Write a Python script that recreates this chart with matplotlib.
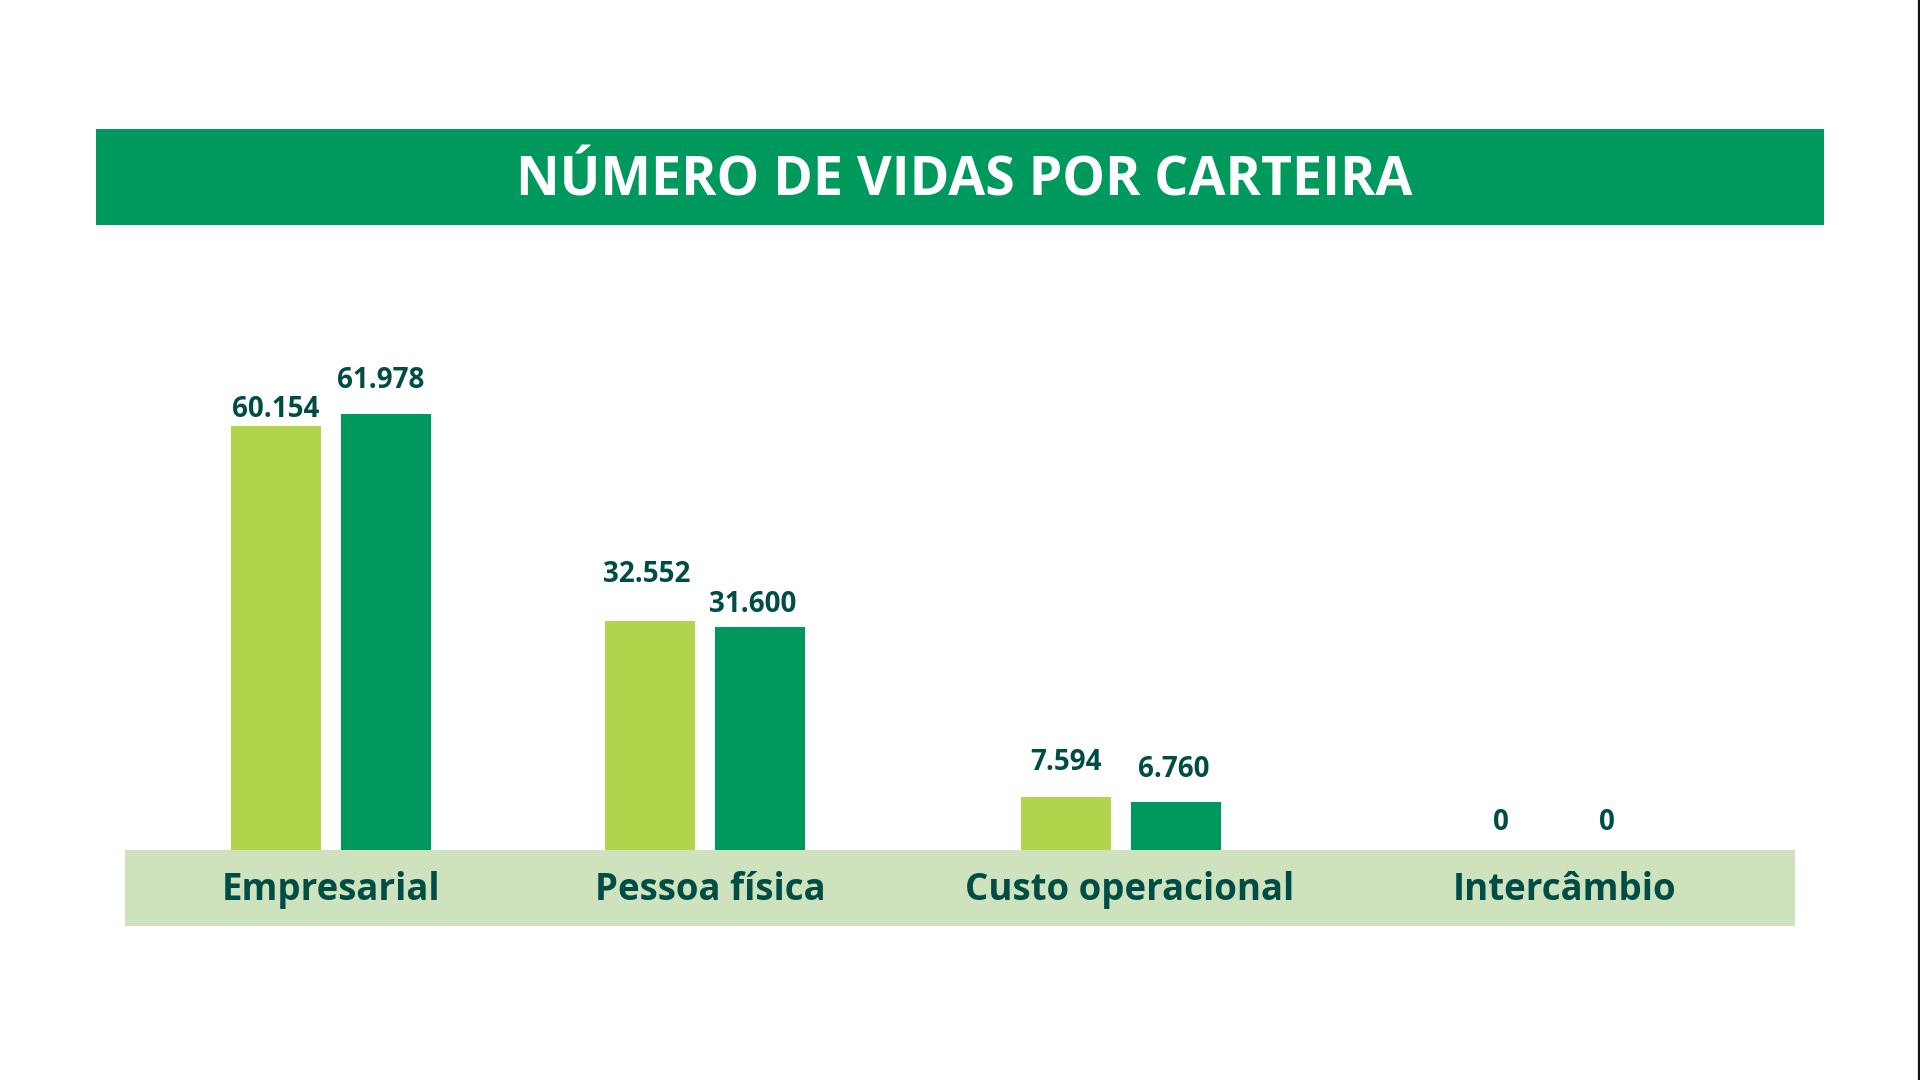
import matplotlib
matplotlib.use("Agg")
import matplotlib.pyplot as plt
from matplotlib.patches import Rectangle

# ---- data ----
title = "NÚMERO DE VIDAS POR CARTEIRA"
categories = ["Empresarial", "Pessoa física", "Custo operacional", "Intercâmbio"]
series_a = [60154, 32552, 7594, 0]   # light green
series_b = [61978, 31600, 6760, 0]   # dark green
labels_a = ["60.154", "32.552", "7.594", "0"]
labels_b = ["61.978", "31.600", "6.760", "0"]

# ---- layout (pixels, 1920x1080 canvas) ----
W, H = 1920, 1080
group_x = [331, 705, 1121, 1554]
cat_label_x = [331, 710, 1130, 1565]
bar_w = 90
bar_off = 55
baseline_px = 850
units_per_px = 142.0
gap_a = [9, 39, 27, 20]
gap_b = [26, 15, 25, 20]
dx_a = [0, -3, 0, 2]
dx_b = [-5, -7, -2, -2]

C_BANNER = "#00995D"
C_LIGHT = "#B2D44D"
C_DARK = "#00995D"
C_BAND = "#CEE3BD"
C_TEXT = "#004D46"
FONT = "Open Sans"

fig = plt.figure(figsize=(W / 100, H / 100), dpi=100)
fig.patch.set_facecolor("white")

def fx(px):
    return px / W

def fy(py):
    return 1 - py / H

# title banner
fig.patches.append(Rectangle((fx(96), fy(225)), fx(1824) - fx(96), fy(129) - fy(225),
                             transform=fig.transFigure, facecolor=C_BANNER, edgecolor="none", zorder=0))
fig.text(fx(964), fy(195), title, ha="center", va="baseline", color="white",
         fontsize=38.6, fontweight="bold", family=FONT)

# category band
fig.patches.append(Rectangle((fx(125), fy(926)), fx(1795) - fx(125), fy(850) - fy(926),
                             transform=fig.transFigure, facecolor=C_BAND, edgecolor="none", zorder=0))
for x, c in zip(cat_label_x, categories):
    fig.text(fx(x), fy(900), c, ha="center", va="baseline", color=C_TEXT,
             fontsize=26.4, fontweight="bold", family=FONT)

# right edge line
fig.add_artist(plt.Line2D([fx(1918.5), fx(1918.5)], [0, 1], transform=fig.transFigure,
                          color="#111111", linewidth=1.6))

# bars axes
ax_h = 620
ax = fig.add_axes([0, fy(baseline_px), 1, ax_h / H])
ax.set_xlim(0, W)
ax.set_ylim(0, ax_h * units_per_px)
ax.axis("off")

xa = [g - bar_off for g in group_x]
xb = [g + bar_off for g in group_x]
ax.bar(xa, series_a, width=bar_w, color=C_LIGHT, zorder=2)
ax.bar(xb, series_b, width=bar_w, color=C_DARK, zorder=2)

for x, v, lab, g, d in zip(xa, series_a, labels_a, gap_a, dx_a):
    ax.annotate(lab, (x, v), xytext=(d, g), textcoords="offset pixels", ha="center",
                va="baseline", color=C_TEXT, fontsize=20, fontweight="bold", family=FONT)
for x, v, lab, g, d in zip(xb, series_b, labels_b, gap_b, dx_b):
    ax.annotate(lab, (x, v), xytext=(d, g), textcoords="offset pixels", ha="center",
                va="baseline", color=C_TEXT, fontsize=20, fontweight="bold", family=FONT)

fig.savefig("out.png", dpi=100, facecolor="white")
